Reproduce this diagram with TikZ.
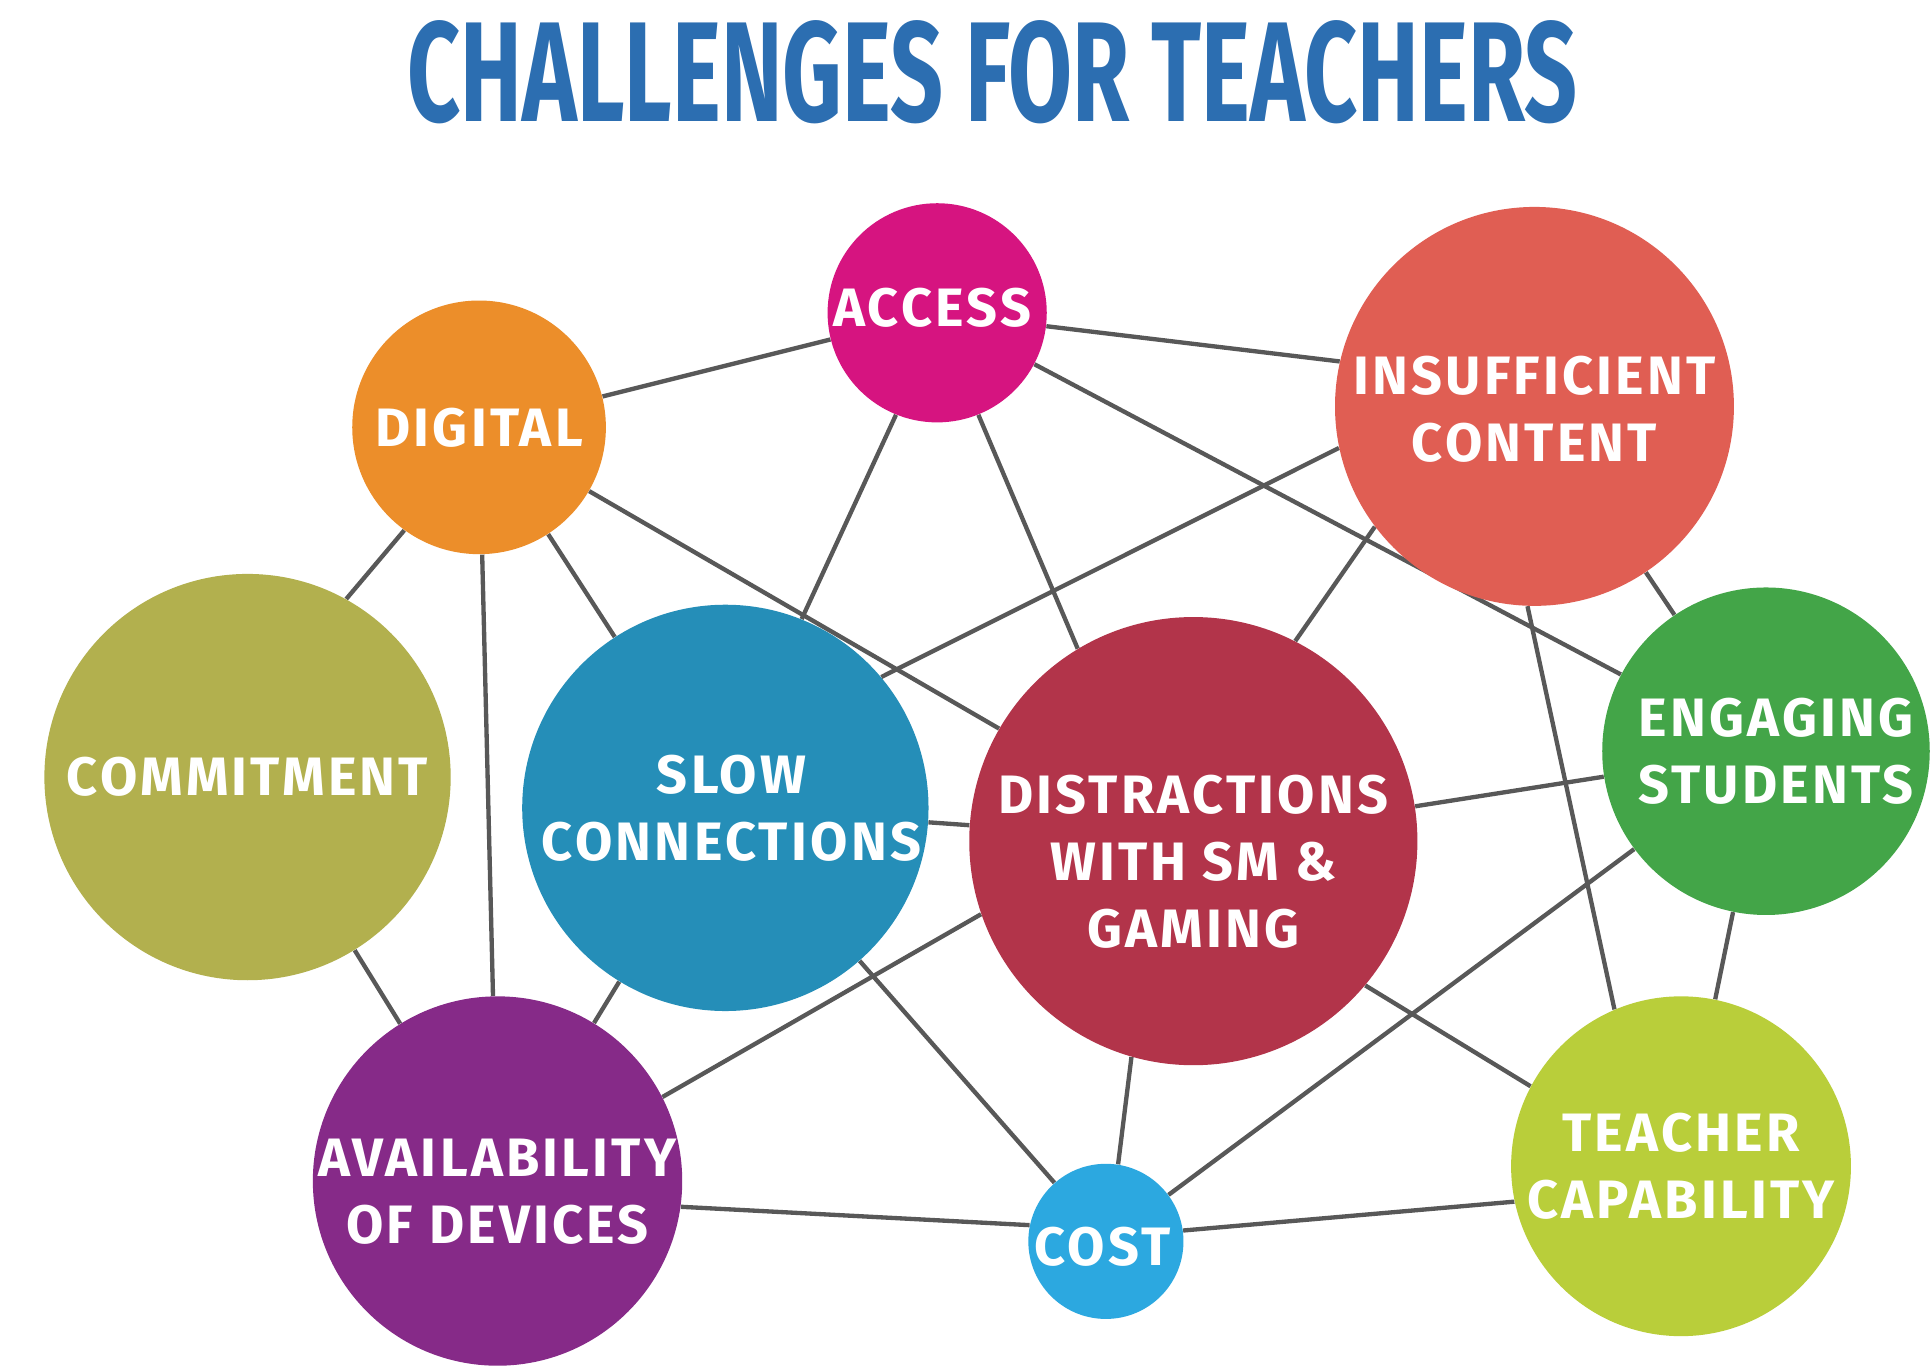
\documentclass[tikz,border=0pt]{standalone}
\usepackage{graphicx}
\usepackage{fontspec}
\setmainfont{Fira Sans}
\newfontfamily\lblfont{Fira Sans}[LetterSpace=6]
\usetikzlibrary{backgrounds}
\definecolor{cAccess}{RGB}{214,20,128}
\definecolor{cDigital}{RGB}{236,142,42}
\definecolor{cInsuff}{RGB}{224,94,83}
\definecolor{cCommit}{RGB}{178,176,78}
\definecolor{cSlow}{RGB}{37,142,184}
\definecolor{cDistr}{RGB}{178,52,74}
\definecolor{cEngage}{RGB}{67,165,72}
\definecolor{cAvail}{RGB}{134,42,136}
\definecolor{cCost}{RGB}{44,168,224}
\definecolor{cTeacher}{RGB}{185,206,58}
\definecolor{titleblue}{RGB}{44,110,177}
\definecolor{linkgray}{RGB}{88,88,88}
\begin{document}
\begin{tikzpicture}[x=0.02cm,y=-0.02cm,
  bubble/.style={circle, draw=none, inner sep=0pt},
  lbl/.style={text=white, font=\lblfont\bfseries\fontsize{25}{31}\selectfont, align=center, inner sep=0pt},
  link/.style={draw=linkgray, line width=2pt}]
\useasboundingbox (0,0) rectangle (1568,1112);
\node[text=titleblue, inner sep=0pt] (title) at (806,59) {\resizebox{19cm}{1.64cm}{\bfseries CHALLENGES FOR TEACHERS}};

\node[bubble, fill=cAccess, minimum size=3.56cm, label={[lbl, xshift=-0.08cm, yshift=0.08cm]center:ACCESS}] (access) at (761,254) {};
\node[bubble, fill=cDigital, minimum size=4.12cm, label={[lbl]center:DIGITAL}] (digital) at (389,347) {};
\node[bubble, fill=cInsuff, minimum size=6.48cm, label={[lbl, yshift=-0.04cm]center:{INSUFFICIENT\\CONTENT}}] (insuff) at (1246,330) {};
\node[bubble, fill=cCommit, minimum size=6.6cm, label={[lbl]center:COMMITMENT}] (commit) at (201,631) {};
\node[bubble, fill=cSlow, minimum size=6.6cm, label={[lbl, xshift=0.1cm]center:{SLOW\\CONNECTIONS}}] (slow) at (589,656) {};
\node[bubble, fill=cDistr, minimum size=7.28cm, label={[lbl, yshift=-0.34cm]center:{DISTRACTIONS\\WITH SM \&\\GAMING}}] (distr) at (969,683) {};
\node[bubble, fill=cEngage, minimum size=5.32cm, label={[lbl, xshift=0.16cm]center:{ENGAGING\\STUDENTS}}] (engage) at (1434,610) {};
\node[bubble, fill=cAvail, minimum size=6cm, label={[lbl, yshift=-0.18cm]center:{AVAILABILITY\\OF DEVICES}}] (avail) at (404,959) {};
\node[bubble, fill=cCost, minimum size=2.52cm, label={[lbl, xshift=-0.06cm, yshift=-0.08cm]center:COST}] (cost) at (898,1008) {};
\node[bubble, fill=cTeacher, minimum size=5.52cm, label={[lbl]center:{TEACHER\\CAPABILITY}}] (teacher) at (1365,947) {};

\begin{scope}[on background layer]
\fill[white] (0,0) rectangle (1568,1112);
\draw[link] (digital) -- (access);
\draw[link] (access.353) -- (insuff.167);
\draw[link] (access) -- (engage);
\draw[link] (access.248) -- (slow.68);
\draw[link] (access.292) -- (distr.121);
\draw[link] (digital.234) -- (commit.61);
\draw[link] (digital) -- (avail);
\draw[link] (digital) -- (slow);
\draw[link] (digital) -- (distr);
\draw[link] (insuff.192) -- (slow.40);
\draw[link] (insuff.217) -- (distr.63);
\draw[link] (insuff) -- (engage);
\draw[link] (insuff.268) -- (teacher.113);
\draw[link] (commit) -- (avail);
\draw[link] (slow) -- (distr);
\draw[link] (slow) -- (avail);
\draw[link] (slow) -- (cost);
\draw[link] (distr.199) -- (avail.27);
\draw[link] (distr) -- (engage);
\draw[link] (distr.254) -- (cost.81);
\draw[link] (distr.320) -- (teacher.152);
\draw[link] (engage) -- (cost);
\draw[link] (engage) -- (teacher);
\draw[link] (avail.352) -- (cost.168);
\draw[link] (cost.8) -- (teacher.192);
\end{scope}
\end{tikzpicture}
\end{document}
